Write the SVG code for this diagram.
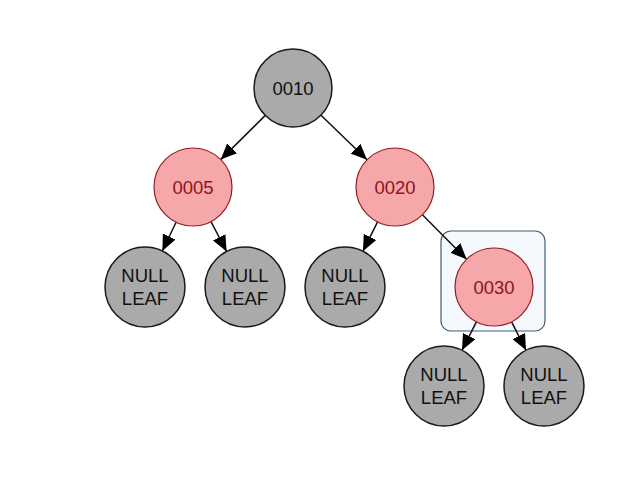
<svg xmlns="http://www.w3.org/2000/svg" width="638" height="484" viewBox="0 0 638 484">
<style>
.gray{fill:#aaaaaa;stroke:#1a1a1a;stroke-width:1.5}
.red{fill:#f6a7a9;stroke:#8e1f22;stroke-width:1.2}
.t{font-family:"Liberation Sans",Arial,sans-serif;font-size:18.5px;text-anchor:middle}
.tk{fill:#111}
.tr{fill:#8e1418}
.edge{stroke:#111;stroke-width:1.5;fill:none;marker-end:url(#arr)}
</style>
<defs>
<marker id="arr" markerUnits="userSpaceOnUse" markerWidth="16" markerHeight="14" refX="16" refY="7" orient="auto">
<path d="M0,0 L16,7 L0,14 z" fill="#000"/>
</marker>
</defs>
<rect x="0" y="0" width="638" height="484" fill="#fff"/>
<g id="selection">
<rect x="441" y="231" width="104" height="100" rx="10" fill="#f5f8fc" stroke="#3f5f73" stroke-width="1.2"/>
</g>
<g id="connectors">
<line class="edge" x1="265.3" y1="115.4" x2="220.7" y2="159.6"/>
<line class="edge" x1="321" y1="115.2" x2="367" y2="159.8"/>
<line class="edge" x1="176.1" y1="222.2" x2="162.3" y2="251"/>
<line class="edge" x1="211" y1="221.6" x2="226.6" y2="251.5"/>
<line class="edge" x1="377.6" y1="221.9" x2="362.9" y2="251.2"/>
<line class="edge" x1="422.4" y1="214.7" x2="466.6" y2="259.3"/>
<line class="edge" x1="476.4" y1="321.8" x2="462" y2="350.3"/>
<line class="edge" x1="511.6" y1="321.8" x2="526" y2="350.3"/>
</g>
<g id="n0010"><circle class="gray" cx="293" cy="88" r="39"/><text class="t tk" x="293" y="95">0010</text></g>
<g id="n0005"><circle class="red" cx="193" cy="187" r="39"/><text class="t tr" x="193" y="194">0005</text></g>
<g id="n0020"><circle class="red" cx="395" cy="187" r="39"/><text class="t tr" x="395" y="194">0020</text></g>
<g id="n0030"><circle class="red" cx="494" cy="287" r="39"/><text class="t tr" x="494" y="294">0030</text></g>
<g id="leaf1"><circle class="gray" cx="145" cy="287" r="40"/><text class="t tk" x="145" y="282">NULL</text><text class="t tk" x="145" y="305">LEAF</text></g>
<g id="leaf2"><circle class="gray" cx="245" cy="287" r="40"/><text class="t tk" x="245" y="282">NULL</text><text class="t tk" x="245" y="305">LEAF</text></g>
<g id="leaf3"><circle class="gray" cx="345" cy="287" r="40"/><text class="t tk" x="345" y="282">NULL</text><text class="t tk" x="345" y="305">LEAF</text></g>
<g id="leaf4"><circle class="gray" cx="444" cy="386" r="40"/><text class="t tk" x="444" y="381">NULL</text><text class="t tk" x="444" y="404">LEAF</text></g>
<g id="leaf5"><circle class="gray" cx="544" cy="386" r="40"/><text class="t tk" x="544" y="381">NULL</text><text class="t tk" x="544" y="404">LEAF</text></g>
</svg>
